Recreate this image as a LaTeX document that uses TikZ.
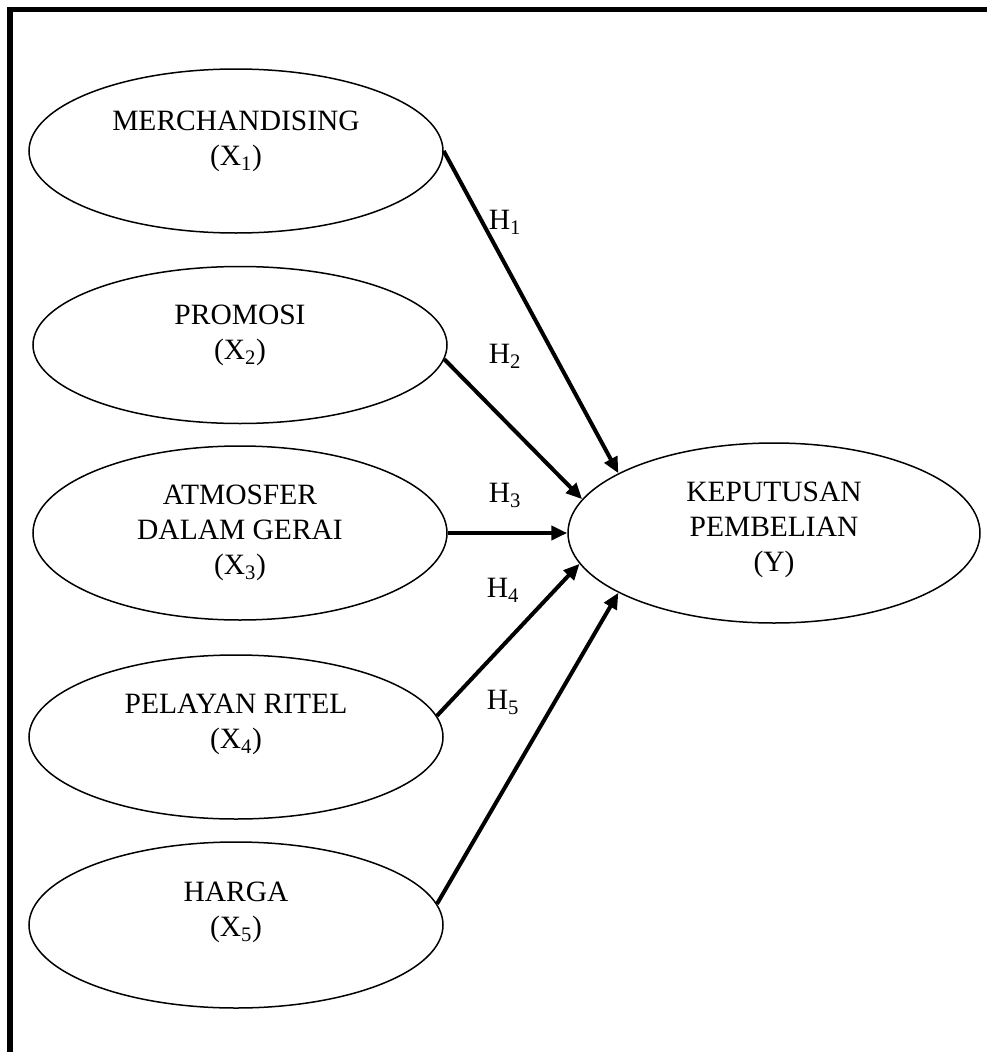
\documentclass[tikz,border=0pt]{standalone}
\usepackage{fontspec}
\setmainfont{Liberation Serif}
\usetikzlibrary{arrows.meta,shapes.geometric}

\begin{document}
\begin{tikzpicture}[x=1pt,y=-1pt,
    every node/.style={font=\fontsize{29.5}{35}\selectfont},
    var/.style={draw,ellipse,line width=1.5pt,inner sep=0pt},
    txt/.style={align=center,inner sep=0pt},
    arr/.style={-{Triangle[length=16pt,width=14pt]},line width=4pt}]
    \useasboundingbox (0,0) rectangle (987,1052);
    % frame
    \draw[line width=5.5pt] (10,1060) -- (10,9.5) -- (995,9.5);
    % variables
    \node[var,minimum width=414pt,minimum height=164pt] (x1) at (236,151) {};
    \node[var,minimum width=414pt,minimum height=157pt] (x2) at (240,345) {};
    \node[var,minimum width=414pt,minimum height=174pt] (x3) at (240,533) {};
    \node[var,minimum width=414pt,minimum height=164pt] (x4) at (236,737) {};
    \node[var,minimum width=414pt,minimum height=166pt] (x5) at (236,925) {};
    \node[var,minimum width=412pt,minimum height=180pt] (y) at (774,533) {};
    \node[txt] (t1) at ([yshift=10pt]x1) {MERCHANDISING\\(X\textsubscript{1})};
    \node[txt] (t2) at ([yshift=10pt]x2) {PROMOSI\\(X\textsubscript{2})};
    \node[txt] (t3) at (x3) {ATMOSFER\\DALAM GERAI\\(X\textsubscript{3})};
    \node[txt] (t4) at ([yshift=13pt]x4) {PELAYAN RITEL\\(X\textsubscript{4})};
    \node[txt] (t5) at ([yshift=13pt]x5) {HARGA\\(X\textsubscript{5})};
    \node[txt] (ty) at ([yshift=3pt]y) {KEPUTUSAN\\PEMBELIAN\\(Y)};
    % hypotheses
    \node[txt] (h1) at (505,222) {H\textsubscript{1}};
    \node[txt] (h2) at (505,356) {H\textsubscript{2}};
    \node[txt] (h3) at (505,495) {H\textsubscript{3}};
    \node[txt] (h4) at (503,590) {H\textsubscript{4}};
    \node[txt] (h5) at (503,702) {H\textsubscript{5}};
    \draw[arr] (x1.east) -- (y.159);
    \draw[arr] (x2.-4) -- (y.170);
    \draw[arr] (x3.east) -- (y.west);
    \draw[arr] (x4.6) -- (y.189);
    \draw[arr] (x5.6) -- (y.201);
\end{tikzpicture}
\end{document}
